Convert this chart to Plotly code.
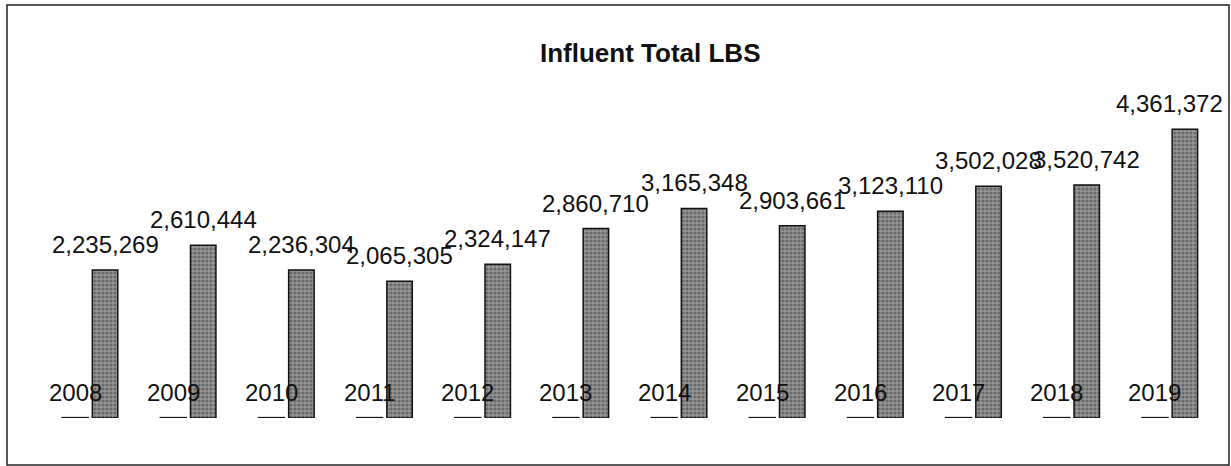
import plotly.graph_objects as go

years = [2008, 2009, 2010, 2011, 2012, 2013, 2014, 2015, 2016, 2017, 2018, 2019]
categories = [str(y) for y in years]
totals = [2235269, 2610444, 2236304, 2065305, 2324147, 2860710,
          3165348, 2903661, 3123110, 3502028, 3520742, 4361372]

W, H = 1231, 466
ml, mr, mt, mb = 41, 12, 87, 48
pw, ph = W - ml - mr, H - mt - mb
bargap = 0.39
off = (1 - bargap) / 4

FONT = "Liberation Sans"


def px_x(p):
    return (p - ml) / pw


def px_y(p):
    return (H - mb - p) / ph


fig = go.Figure()
fig.add_trace(go.Bar(
    x=categories, y=years, name="Year",
    marker=dict(color="#ffffff", line=dict(color="#111111", width=2)),
    hoverinfo="skip",
))
fig.add_trace(go.Bar(
    x=categories, y=totals, name="Influent Total LBS",
    marker=dict(color="#7a7a7a", line=dict(color="#111111", width=1.5),
                pattern=dict(shape=".", fgcolor="#3c3c3c", bgcolor="#969696",
                             size=4, solidity=0.5)),
    hoverinfo="skip",
))

annotations = []
n = len(years)
for i, (yr, val) in enumerate(zip(years, totals)):
    annotations.append(dict(x=i - off, y=yr, xref="x", yref="y", text=str(yr),
                            showarrow=False, yanchor="bottom", yshift=10,
                            font=dict(family=FONT, size=24, color="#111111")))
    # keep the last label inside the chart frame, as the original does
    xs = -15 if i == n - 1 else 0
    annotations.append(dict(x=i + off, y=val, xref="x", yref="y", text=f"{val:,}",
                            showarrow=False, yanchor="bottom", yshift=10, xshift=xs,
                            font=dict(family=FONT, size=24, color="#111111")))

annotations.append(dict(x=px_x(650), y=px_y(53), xref="paper", yref="paper",
                        text="<b>Influent Total LBS</b>", showarrow=False,
                        xanchor="center", yanchor="middle",
                        font=dict(family=FONT, size=26, color="#111111")))

fig.update_layout(
    width=W, height=H,
    margin=dict(l=ml, r=mr, t=mt, b=mb, pad=0),
    paper_bgcolor="white", plot_bgcolor="white",
    barmode="group", bargap=bargap, bargroupgap=0.15,
    showlegend=False,
    xaxis=dict(type="category", visible=False, range=[-0.5, n - 0.5]),
    yaxis=dict(visible=False, range=[0, 5000000]),
    annotations=annotations,
    shapes=[dict(type="rect", xref="paper", yref="paper",
                 x0=px_x(7), x1=px_x(1229), y0=px_y(465), y1=px_y(5),
                 line=dict(color="#222222", width=1.5), layer="below")],
)

fig.write_html("out.html", config={"displayModeBar": False},
               post_script="document.body.style.margin='0';")
